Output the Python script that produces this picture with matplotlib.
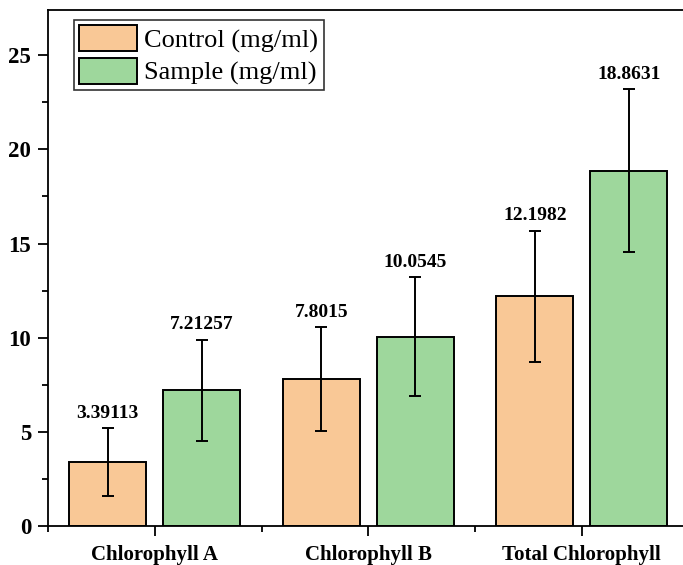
import matplotlib
matplotlib.use("Agg")
import matplotlib.pyplot as plt
import numpy as np
from matplotlib.ticker import MultipleLocator, FixedLocator

# Chlorophyll content, control vs. sample
categories = ["Chlorophyll A", "Chlorophyll B", "Total Chlorophyll"]
control_values = [3.39113, 7.8015, 12.1982]
sample_values = [7.21257, 10.0545, 18.8631]
control_labels = ["3.39113", "7.8015", "12.1982"]
sample_labels = ["7.21257", "10.0545", "18.8631"]
control_err = [1.82, 2.76, 3.49]
sample_err = [2.68, 3.16, 4.33]
series_names = ["Control (mg/ml)", "Sample (mg/ml)"]
y_ticks = [0, 5, 10, 15, 20, 25]

plt.rcParams["font.family"] = ["Liberation Serif", "DejaVu Serif"]

fig = plt.figure(figsize=(6.83, 5.65), dpi=100)
W, H = 683, 565
left, bottom, top = 48, 526, 10
right = 48 + 3 * 213.5
ax = fig.add_axes([left / W, 1 - bottom / H, (right - left) / W, (bottom - top) / H])

x = np.arange(len(categories))
width = 0.36
offset = 0.22
c_control = "#F9C896"
c_sample = "#9ED79C"

err_kw = dict(ecolor="black", elinewidth=1.4, capsize=4, capthick=1.4)
ax.bar(x - offset, control_values, width, color=c_control, edgecolor="black",
       linewidth=1.4, yerr=control_err, error_kw=err_kw, label=series_names[0], zorder=2)
ax.bar(x + offset, sample_values, width, color=c_sample, edgecolor="black",
       linewidth=1.4, yerr=sample_err, error_kw=err_kw, label=series_names[1], zorder=2)

for xi, v, e, t in zip(x - offset, control_values, control_err, control_labels):
    ax.annotate(t, (xi, v + e), xytext=(0, 4.5), textcoords="offset points",
                ha="center", va="bottom", fontsize=14, fontweight="bold")
for xi, v, e, t in zip(x + offset, sample_values, sample_err, sample_labels):
    ax.annotate(t, (xi, v + e), xytext=(0, 4.5), textcoords="offset points",
                ha="center", va="bottom", fontsize=14, fontweight="bold")

ax.set_xlim(-0.5, 2.5)
ax.set_ylim(0, 27.4)
ax.set_yticks(y_ticks)
ax.yaxis.set_minor_locator(MultipleLocator(2.5))
ax.set_xticks(x)
ax.set_xticklabels(categories)
ax.xaxis.set_minor_locator(FixedLocator([-0.5, 0.5, 1.5, 2.5]))

for lab in ax.get_yticklabels():
    lab.set_fontweight("bold")
    lab.set_fontsize(16.5)
for lab in ax.get_xticklabels():
    lab.set_fontweight("bold")
    lab.set_fontsize(15)

ax.tick_params(axis="both", which="major", direction="out", length=7, width=1.3, pad=5)
ax.tick_params(axis="both", which="minor", direction="out", length=4, width=1.3)
ax.tick_params(axis="x", which="major", pad=7)
for s in ax.spines.values():
    s.set_linewidth(1.3)

leg = ax.legend(loc="upper left", bbox_to_anchor=(26 / (right - left), (bottom - 20) / (bottom - top)),
                borderaxespad=0, fontsize=19, frameon=True, fancybox=False,
                edgecolor="black", handlelength=2.2, handleheight=1.14,
                labelspacing=0.19, handletextpad=0.27, borderpad=0.2)
leg.get_frame().set_linewidth(1.2)

fig.savefig("out.png", dpi=100)
